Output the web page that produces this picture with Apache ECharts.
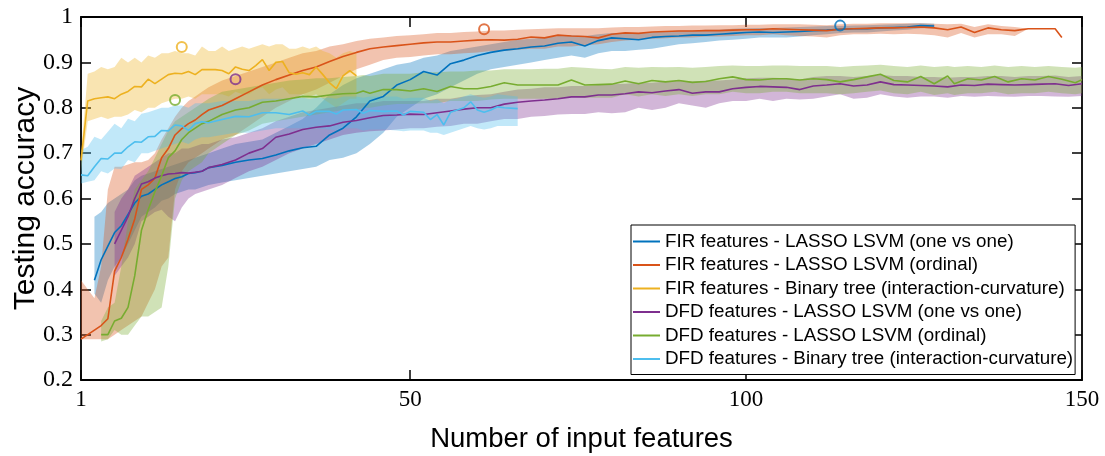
<!DOCTYPE html>
<html><head><meta charset="utf-8">
<script src="https://cdn.jsdelivr.net/npm/echarts@6/dist/echarts.min.js"></script>
<style>html,body{margin:0;padding:0;background:#fff}#c{width:1105px;height:456px}</style>
</head><body><div id="c"></div>
<script>
const seriesNames = [
  'FIR features - LASSO LSVM (one vs one)',
  'FIR features - LASSO LSVM (ordinal)',
  'FIR features - Binary tree (interaction-curvature)',
  'DFD features - LASSO LSVM (one vs one)',
  'DFD features - LASSO LSVM (ordinal)',
  'DFD features - Binary tree (interaction-curvature)'
];
const seriesColors = ['#0072BD', '#D95319', '#EDB120', '#7E2F8E', '#77AC30', '#4DBEEE'];
const xTickValues = [1, 50, 100, 150];

// rows: [number of features, mean accuracy, lower bound, upper bound]
const firOneVsOne = [
[3,0.42,0.39,0.56],[4,0.465,0.37,0.57],[5,0.495,0.42,0.59],[6,0.525,0.45,0.60],[7,0.54,0.47,0.61],
[8,0.565,0.50,0.62],[9,0.59,0.53,0.64],[10,0.605,0.56,0.65],[11,0.61,0.57,0.655],[12,0.62,0.58,0.66],
[13,0.63,0.595,0.665],[14,0.637,0.60,0.67],[15,0.644,0.61,0.675],[16,0.648,0.615,0.68],[17,0.655,0.62,0.685],
[18,0.657,0.62,0.69],[19,0.66,0.625,0.695],[20,0.668,0.63,0.70],[22,0.673,0.635,0.71],[24,0.68,0.64,0.72],
[26,0.685,0.645,0.725],[28,0.688,0.65,0.73],[30,0.696,0.655,0.745],[32,0.705,0.66,0.76],[34,0.712,0.665,0.775],
[36,0.715,0.67,0.80],[38,0.74,0.685,0.83],[40,0.755,0.69,0.85],[42,0.78,0.70,0.865],[44,0.815,0.72,0.875],
[46,0.825,0.745,0.885],[48,0.85,0.78,0.895],[50,0.862,0.80,0.90],[52,0.88,0.82,0.91],[54,0.872,0.83,0.915],
[56,0.897,0.845,0.925],[58,0.905,0.86,0.93],[60,0.915,0.875,0.935],[62,0.922,0.885,0.94],[64,0.927,0.89,0.945],
[66,0.93,0.895,0.95],[68,0.934,0.90,0.952],[70,0.936,0.905,0.955],[72,0.942,0.91,0.958],[74,0.945,0.915,0.96],
[76,0.936,0.91,0.958],[78,0.948,0.92,0.962],[80,0.954,0.925,0.965],[82,0.952,0.925,0.965],[84,0.95,0.928,0.965],
[86,0.955,0.93,0.967],[88,0.957,0.935,0.968],[90,0.958,0.94,0.97],[92,0.96,0.942,0.97],[94,0.96,0.945,0.972],
[96,0.962,0.948,0.972],[98,0.964,0.95,0.974],[100,0.966,0.952,0.975],[102,0.967,0.955,0.976],[104,0.966,0.955,0.976],
[106,0.967,0.955,0.977],[108,0.968,0.957,0.978],[110,0.97,0.96,0.979],[112,0.971,0.962,0.98],[114,0.973,0.965,0.98],
[116,0.974,0.966,0.981],[118,0.974,0.966,0.982],[120,0.976,0.968,0.983],[122,0.977,0.97,0.984],[124,0.978,0.972,0.985],
[126,0.981,0.975,0.986],[128,0.98,0.975,0.985]
];
const firOrdinal = [
[1,0.29,0.29,0.42],[2,0.30,0.29,0.40],[3,0.31,0.29,0.38],[4,0.32,0.29,0.45],[5,0.335,0.29,0.62],
[6,0.44,0.30,0.67],[7,0.47,0.31,0.67],[8,0.51,0.32,0.675],[9,0.555,0.33,0.68],[10,0.62,0.34,0.68],
[11,0.63,0.37,0.685],[12,0.645,0.40,0.70],[13,0.69,0.45,0.73],[14,0.71,0.47,0.755],[15,0.74,0.62,0.78],
[16,0.754,0.66,0.80],[17,0.765,0.68,0.815],[18,0.773,0.69,0.825],[19,0.785,0.70,0.835],[20,0.795,0.71,0.845],
[22,0.805,0.73,0.86],[24,0.82,0.74,0.87],[26,0.835,0.76,0.88],[28,0.85,0.78,0.89],[30,0.862,0.80,0.90],
[32,0.872,0.815,0.91],[34,0.882,0.83,0.92],[36,0.89,0.84,0.925],[38,0.902,0.855,0.935],[40,0.913,0.87,0.94],
[42,0.922,0.885,0.947],[44,0.93,0.895,0.952],[46,0.934,0.905,0.955],[48,0.937,0.91,0.958],[50,0.94,0.912,0.96],
[52,0.943,0.915,0.962],[54,0.945,0.918,0.965],[56,0.945,0.918,0.965],[58,0.947,0.92,0.967],[60,0.949,0.922,0.968],
[62,0.95,0.925,0.97],[64,0.949,0.925,0.97],[66,0.951,0.928,0.972],[68,0.956,0.93,0.973],[70,0.954,0.93,0.974],
[72,0.96,0.935,0.975],[74,0.958,0.935,0.975],[76,0.957,0.938,0.975],[78,0.954,0.94,0.975],[80,0.962,0.945,0.977],
[82,0.965,0.948,0.978],[84,0.964,0.95,0.978],[86,0.967,0.952,0.979],[88,0.968,0.953,0.98],[90,0.969,0.955,0.98],
[92,0.969,0.955,0.981],[94,0.97,0.957,0.981],[96,0.97,0.957,0.982],[98,0.971,0.958,0.982],[100,0.972,0.96,0.983],
[102,0.972,0.96,0.983],[104,0.974,0.962,0.984],[106,0.973,0.96,0.984],[108,0.972,0.958,0.984],[110,0.971,0.957,0.983],
[112,0.97,0.955,0.982],[114,0.973,0.96,0.984],[116,0.974,0.962,0.985],[118,0.975,0.962,0.985],[120,0.976,0.963,0.986],
[122,0.976,0.962,0.986],[124,0.977,0.963,0.986],[126,0.978,0.962,0.986],[128,0.976,0.96,0.985],[130,0.972,0.955,0.984],
[132,0.978,0.965,0.985],[134,0.966,0.955,0.978],[136,0.976,0.962,0.984],[138,0.972,0.962,0.98],[140,0.97,0.958,0.978],
[142,0.974,0.974,0.974],[144,0.974,0.974,0.974],[146,0.974,0.974,0.974],[147,0.955,0.955,0.955]
];
const firTree = [
[1,0.684,0.66,0.70],[2,0.815,0.77,0.875],[3,0.82,0.775,0.88],[4,0.822,0.78,0.89],[5,0.824,0.775,0.885],
[6,0.82,0.78,0.89],[7,0.83,0.78,0.91],[8,0.836,0.785,0.90],[9,0.847,0.795,0.91],[10,0.846,0.79,0.90],
[11,0.863,0.80,0.915],[12,0.853,0.80,0.91],[13,0.863,0.81,0.92],[14,0.873,0.815,0.92],[15,0.876,0.82,0.925],
[16,0.875,0.82,0.92],[17,0.88,0.825,0.92],[18,0.873,0.82,0.915],[19,0.884,0.83,0.935],[20,0.884,0.83,0.925],
[21,0.884,0.83,0.925],[22,0.882,0.83,0.935],[23,0.875,0.825,0.925],[24,0.89,0.835,0.93],[25,0.885,0.83,0.935],
[26,0.882,0.83,0.93],[27,0.893,0.84,0.935],[28,0.906,0.845,0.94],[29,0.882,0.83,0.935],[30,0.90,0.84,0.94],
[31,0.902,0.845,0.94],[32,0.877,0.83,0.93],[33,0.874,0.83,0.93],[34,0.877,0.83,0.935],[35,0.873,0.825,0.93],
[36,0.89,0.83,0.935],[37,0.873,0.82,0.925],[38,0.855,0.81,0.92],[39,0.842,0.80,0.91],[40,0.87,0.81,0.92],
[41,0.882,0.82,0.925],[42,0.87,0.82,0.92]
];
const dfdOneVsOne = [
[6,0.50,0.43,0.57],[7,0.53,0.45,0.60],[8,0.56,0.47,0.62],[9,0.60,0.50,0.65],[10,0.632,0.55,0.66],
[11,0.637,0.56,0.67],[12,0.645,0.57,0.68],[13,0.65,0.575,0.69],[14,0.654,0.56,0.70],[15,0.655,0.55,0.70],
[16,0.657,0.58,0.71],[17,0.656,0.60,0.71],[18,0.658,0.61,0.715],[19,0.66,0.615,0.72],[20,0.668,0.62,0.72],
[22,0.675,0.63,0.73],[24,0.685,0.645,0.735],[26,0.70,0.66,0.745],[28,0.71,0.67,0.755],[30,0.735,0.685,0.77],
[32,0.742,0.70,0.78],[34,0.752,0.71,0.79],[36,0.757,0.72,0.795],[38,0.76,0.73,0.80],[40,0.768,0.74,0.805],
[42,0.772,0.745,0.81],[44,0.778,0.748,0.81],[46,0.783,0.75,0.815],[48,0.784,0.752,0.815],[50,0.786,0.755,0.815],
[52,0.785,0.755,0.815],[54,0.789,0.758,0.82],[56,0.793,0.76,0.82],[58,0.797,0.765,0.825],[60,0.80,0.765,0.828],
[62,0.80,0.77,0.83],[64,0.808,0.775,0.835],[66,0.812,0.775,0.84],[68,0.815,0.78,0.842],[70,0.817,0.782,0.845],
[72,0.82,0.785,0.845],[74,0.824,0.786,0.848],[76,0.824,0.786,0.848],[78,0.828,0.79,0.85],[80,0.828,0.788,0.852],
[82,0.831,0.79,0.853],[84,0.835,0.80,0.855],[86,0.833,0.795,0.855],[88,0.837,0.80,0.858],[90,0.84,0.81,0.86],
[92,0.832,0.805,0.858],[94,0.835,0.80,0.86],[96,0.835,0.81,0.86],[98,0.842,0.815,0.862],[100,0.845,0.815,0.865],
[102,0.847,0.82,0.866],[104,0.846,0.815,0.866],[106,0.845,0.82,0.865],[108,0.84,0.818,0.862],[110,0.848,0.82,0.868],
[112,0.85,0.825,0.87],[114,0.853,0.83,0.87],[116,0.848,0.82,0.868],[118,0.85,0.822,0.87],[120,0.857,0.83,0.872],
[122,0.851,0.825,0.87],[124,0.85,0.822,0.87],[126,0.849,0.825,0.868],[128,0.848,0.825,0.868],[130,0.846,0.822,0.866],
[132,0.85,0.826,0.868],[134,0.849,0.824,0.868],[136,0.852,0.826,0.87],[138,0.851,0.825,0.87],[140,0.85,0.824,0.868],
[142,0.851,0.826,0.87],[144,0.852,0.826,0.87],[146,0.853,0.825,0.871],[148,0.849,0.824,0.868],[150,0.853,0.826,0.87]
];
const dfdOrdinal = [
[4,0.30,0.285,0.33],[5,0.30,0.29,0.36],[6,0.33,0.31,0.37],[7,0.336,0.30,0.45],[8,0.36,0.30,0.55],
[9,0.43,0.32,0.62],[10,0.53,0.34,0.64],[11,0.575,0.34,0.66],[12,0.615,0.35,0.69],[13,0.65,0.36,0.72],
[14,0.69,0.45,0.75],[15,0.705,0.60,0.77],[16,0.73,0.64,0.78],[17,0.745,0.66,0.79],[18,0.755,0.67,0.80],
[19,0.765,0.68,0.81],[20,0.77,0.70,0.82],[22,0.785,0.72,0.835],[24,0.795,0.74,0.84],[26,0.80,0.75,0.845],
[28,0.812,0.765,0.85],[30,0.815,0.77,0.855],[32,0.82,0.775,0.86],[34,0.825,0.78,0.862],[36,0.824,0.785,0.865],
[38,0.828,0.79,0.865],[40,0.831,0.795,0.868],[42,0.832,0.795,0.87],[43,0.837,0.80,0.872],[44,0.832,0.80,0.87],
[46,0.84,0.805,0.875],[48,0.84,0.808,0.875],[50,0.837,0.808,0.875],[52,0.842,0.81,0.878],[54,0.836,0.81,0.878],
[56,0.847,0.815,0.88],[58,0.842,0.815,0.88],[60,0.842,0.815,0.882],[62,0.847,0.818,0.882],[64,0.855,0.82,0.885],
[66,0.85,0.82,0.885],[68,0.85,0.82,0.885],[70,0.85,0.82,0.886],[72,0.85,0.82,0.886],[74,0.861,0.825,0.89],
[76,0.85,0.822,0.888],[78,0.851,0.822,0.886],[80,0.852,0.822,0.885],[82,0.859,0.83,0.89],[84,0.853,0.825,0.888],
[86,0.86,0.83,0.89],[88,0.857,0.826,0.889],[90,0.86,0.83,0.89],[92,0.856,0.826,0.888],[94,0.858,0.83,0.89],
[96,0.864,0.83,0.892],[98,0.868,0.835,0.893],[100,0.862,0.832,0.892],[102,0.861,0.832,0.892],[104,0.864,0.835,0.893],
[106,0.864,0.835,0.893],[108,0.861,0.832,0.892],[110,0.864,0.832,0.892],[112,0.862,0.832,0.892],[114,0.857,0.83,0.89],
[116,0.862,0.832,0.892],[118,0.868,0.835,0.893],[120,0.874,0.838,0.895],[122,0.86,0.832,0.892],[124,0.857,0.83,0.89],
[126,0.869,0.835,0.893],[128,0.853,0.828,0.89],[130,0.87,0.832,0.892],[131,0.853,0.828,0.89],[133,0.864,0.832,0.892],
[135,0.861,0.832,0.89],[137,0.869,0.835,0.893],[139,0.857,0.83,0.89],[141,0.864,0.832,0.892],[143,0.861,0.832,0.89],
[145,0.869,0.835,0.892],[147,0.863,0.832,0.89],[149,0.855,0.83,0.888],[150,0.862,0.832,0.89]
];
const dfdTree = [
[1,0.652,0.633,0.707],[2,0.65,0.637,0.714],[3,0.67,0.64,0.736],[4,0.688,0.66,0.73],[5,0.687,0.655,0.747],
[6,0.70,0.666,0.765],[7,0.70,0.665,0.755],[8,0.714,0.685,0.776],[9,0.725,0.68,0.77],[10,0.724,0.70,0.787],
[11,0.736,0.70,0.79],[12,0.737,0.705,0.795],[13,0.75,0.71,0.80],[14,0.749,0.715,0.80],[15,0.762,0.72,0.805],
[16,0.76,0.725,0.805],[17,0.75,0.72,0.80],[18,0.765,0.73,0.81],[19,0.769,0.735,0.81],[20,0.767,0.735,0.81],
[22,0.774,0.74,0.815],[24,0.781,0.745,0.815],[26,0.78,0.745,0.815],[28,0.789,0.75,0.82],[30,0.789,0.755,0.82],
[32,0.785,0.755,0.82],[34,0.793,0.755,0.822],[35,0.784,0.752,0.82],[36,0.792,0.755,0.822],[38,0.792,0.752,0.822],
[39,0.786,0.75,0.82],[40,0.795,0.755,0.825],[42,0.796,0.755,0.825],[43,0.788,0.75,0.822],[44,0.794,0.752,0.825],
[46,0.792,0.752,0.825],[48,0.793,0.75,0.825],[49,0.784,0.748,0.82],[50,0.792,0.75,0.822],[52,0.79,0.75,0.822],
[53,0.774,0.745,0.815],[54,0.785,0.745,0.818],[55,0.762,0.74,0.81],[56,0.79,0.745,0.818],[57,0.795,0.75,0.82],
[58,0.80,0.755,0.825],[59,0.813,0.76,0.83],[60,0.795,0.755,0.825],[61,0.79,0.752,0.822],[62,0.795,0.755,0.825],
[63,0.802,0.76,0.83],[64,0.80,0.76,0.828],[66,0.798,0.76,0.825]
];
// best single result of each method (open circles)
const peakPoints = [[114,0.981,0],[61,0.973,1],[16,0.934,2],[24,0.863,3],[15,0.817,4]];

const tables = [firOneVsOne, firOrdinal, firTree, dfdOneVsOne, dfdOrdinal, dfdTree];

function rgba(hex, a) {
  const n = parseInt(hex.slice(1), 16);
  return 'rgba(' + (n >> 16 & 255) + ',' + (n >> 8 & 255) + ',' + (n & 255) + ',' + a + ')';
}
function bandSeries(rows, color) {
  return {
    type: 'custom', silent: true, z: 1,
    data: rows.map(r => [r[0], r[2], r[3]]),
    encode: { x: 0, y: [1, 2] },
    renderItem: function (params, api) {
      if (params.dataIndex !== 0) return null;
      const pts = [];
      for (let i = 0; i < rows.length; i++) pts.push(api.coord([rows[i][0], rows[i][3]]));
      for (let i = rows.length - 1; i >= 0; i--) pts.push(api.coord([rows[i][0], rows[i][2]]));
      return { type: 'polygon', shape: { points: pts }, style: { fill: rgba(color, 0.35), stroke: null } };
    }
  };
}
const series = [];
tables.forEach((t, i) => series.push(bandSeries(t, seriesColors[i])));
tables.forEach((t, i) => series.push({
  type: 'line', name: seriesNames[i], data: t.map(r => [r[0], r[1]]),
  symbol: 'none', z: 3, color: seriesColors[i],
  lineStyle: { width: 1.6, color: seriesColors[i] }, itemStyle: { color: seriesColors[i] }
}));
series.push({
  type: 'scatter', z: 4, symbol: 'circle', symbolSize: 10, silent: true,
  data: peakPoints.map(p => ({ value: [p[0], p[1]], itemStyle: { color: 'rgba(0,0,0,0)', borderColor: seriesColors[p[2]], borderWidth: 2 } }))
});

const axisLine = { show: true, onZero: false, lineStyle: { color: '#000', width: 1.8 } };
const tick = { show: true, inside: true, length: 10, lineStyle: { color: '#000', width: 1.5 } };

const option = {
  animation: false,
  backgroundColor: '#fff',
  grid: { left: 81, top: 17, width: 1001, height: 363, containLabel: false, outerBoundsMode: 'none' },
  xAxis: [
    { type: 'value', min: 1, max: 150, position: 'bottom', axisLine: axisLine,
      axisTick: Object.assign({}, tick, { customValues: xTickValues }),
      axisLabel: { customValues: xTickValues, margin: 8, color: '#000', fontFamily: 'Liberation Serif, serif', fontSize: 23 },
      splitLine: { show: false },
      name: 'Number of input features', nameLocation: 'middle', nameGap: 45,
      nameTextStyle: { color: '#000', fontFamily: 'Liberation Sans, Arial, sans-serif', fontSize: 27.5 } },
    { type: 'value', min: 1, max: 150, position: 'top', axisLine: axisLine,
      axisTick: Object.assign({}, tick, { customValues: xTickValues }),
      axisLabel: { show: false }, splitLine: { show: false } }
  ],
  yAxis: [
    { type: 'value', min: 0.2, max: 1, interval: 0.1, position: 'left', axisLine: axisLine, axisTick: tick,
      axisLabel: { margin: 8, color: '#000', fontFamily: 'Liberation Serif, serif', fontSize: 24,
        formatter: v => (Math.abs(v - 1) < 1e-9 ? '1' : v.toFixed(1)) },
      splitLine: { show: false },
      name: 'Testing accuracy', nameLocation: 'middle', nameGap: 40, nameMoveOverlap: false,
      nameTextStyle: { color: '#000', fontFamily: 'Liberation Sans, Arial, sans-serif', fontSize: 30 } },
    { type: 'value', min: 0.2, max: 1, interval: 0.1, position: 'right', axisLine: axisLine, axisTick: tick,
      axisLabel: { show: false }, splitLine: { show: false } }
  ],
  legend: {
    data: seriesNames, orient: 'vertical', left: 631, top: 225,
    backgroundColor: '#fff', borderColor: '#000', borderWidth: 1, borderRadius: 0,
    padding: [7, 2, 6, 2], itemGap: 4.5, itemWidth: 27, itemHeight: 2, icon: 'rect',
    textStyle: { color: '#000', fontFamily: 'Liberation Sans, Arial, sans-serif', fontSize: 18.8, lineHeight: 18.8 },
    selectedMode: false
  },
  series: series
};
const chart = echarts.init(document.getElementById('c'));
chart.setOption(option);
</script></body></html>
